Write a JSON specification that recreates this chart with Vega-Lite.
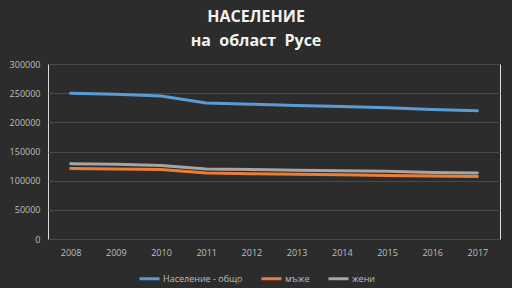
{
  "$schema": "https://vega.github.io/schema/vega-lite/v6.json",
  "width": 452,
  "height": 175,
  "autosize": {"type": "none"},
  "padding": {"left": 48, "top": 64, "right": 12, "bottom": 49},
  "background": "#2c2c2c",
  "title": {
    "text": ["НАСЕЛЕНИЕ", "на\u00a0 област\u00a0 Русе"],
    "font": "Open Sans",
    "fontSize": 16,
    "fontWeight": "bold",
    "color": "#f2f2f2",
    "anchor": "middle",
    "frame": "group",
    "dx": -18,
    "offset": 11,
    "lineHeight": 24
  },
  "data": {
    "values": [
      {"year": "2008", "series": "Население - общо", "value": 250000},
      {"year": "2009", "series": "Население - общо", "value": 248000},
      {"year": "2010", "series": "Население - общо", "value": 245000},
      {"year": "2011", "series": "Население - общо", "value": 233000},
      {"year": "2012", "series": "Население - общо", "value": 231000},
      {"year": "2013", "series": "Население - общо", "value": 229000},
      {"year": "2014", "series": "Население - общо", "value": 227000},
      {"year": "2015", "series": "Население - общо", "value": 225000},
      {"year": "2016", "series": "Население - общо", "value": 222000},
      {"year": "2017", "series": "Население - общо", "value": 220000},
      {"year": "2008", "series": "мъже", "value": 121000},
      {"year": "2009", "series": "мъже", "value": 120000},
      {"year": "2010", "series": "мъже", "value": 119000},
      {"year": "2011", "series": "мъже", "value": 113000},
      {"year": "2012", "series": "мъже", "value": 112000},
      {"year": "2013", "series": "мъже", "value": 111000},
      {"year": "2014", "series": "мъже", "value": 110000},
      {"year": "2015", "series": "мъже", "value": 109000},
      {"year": "2016", "series": "мъже", "value": 108000},
      {"year": "2017", "series": "мъже", "value": 107000},
      {"year": "2008", "series": "жени", "value": 129000},
      {"year": "2009", "series": "жени", "value": 128000},
      {"year": "2010", "series": "жени", "value": 126000},
      {"year": "2011", "series": "жени", "value": 120000},
      {"year": "2012", "series": "жени", "value": 119000},
      {"year": "2013", "series": "жени", "value": 118000},
      {"year": "2014", "series": "жени", "value": 117000},
      {"year": "2015", "series": "жени", "value": 116000},
      {"year": "2016", "series": "жени", "value": 114000},
      {"year": "2017", "series": "жени", "value": 113000}
    ]
  },
  "mark": {"type": "line", "strokeWidth": 3, "strokeCap": "round"},
  "encoding": {
    "x": {
      "field": "year",
      "type": "ordinal",
      "scale": {"type": "point", "padding": 0.5},
      "axis": {
        "title": null,
        "labelAngle": 0,
        "domain": false,
        "ticks": false,
        "grid": false,
        "labelFont": "Open Sans",
        "labelFontSize": 9,
        "labelColor": "#bfbfbf",
        "labelPadding": 9
      }
    },
    "y": {
      "field": "value",
      "type": "quantitative",
      "scale": {"domain": [0, 300000]},
      "axis": {
        "title": null,
        "values": [0, 50000, 100000, 150000, 200000, 250000, 300000],
        "format": "d",
        "domain": false,
        "ticks": false,
        "gridColor": "#4a4a4a",
        "gridWidth": 1,
        "labelFont": "Open Sans",
        "labelFontSize": 9,
        "labelColor": "#bfbfbf",
        "labelPadding": 8
      }
    },
    "color": {
      "field": "series",
      "type": "nominal",
      "sort": ["Население - общо", "мъже", "жени"],
      "scale": {
        "domain": ["Население - общо", "мъже", "жени"],
        "range": ["#5b9bd5", "#ed7d31", "#a5a5a5"]
      },
      "legend": {
        "title": null,
        "orient": "none",
        "direction": "horizontal",
        "legendX": 90,
        "legendY": 203,
        "symbolType": "stroke",
        "symbolSize": 400,
        "symbolStrokeWidth": 3,
        "labelFont": "Open Sans",
        "labelFontSize": 9,
        "labelColor": "#bfbfbf",
        "columnPadding": 12,
        "labelOffset": 2
      }
    }
  }
}
